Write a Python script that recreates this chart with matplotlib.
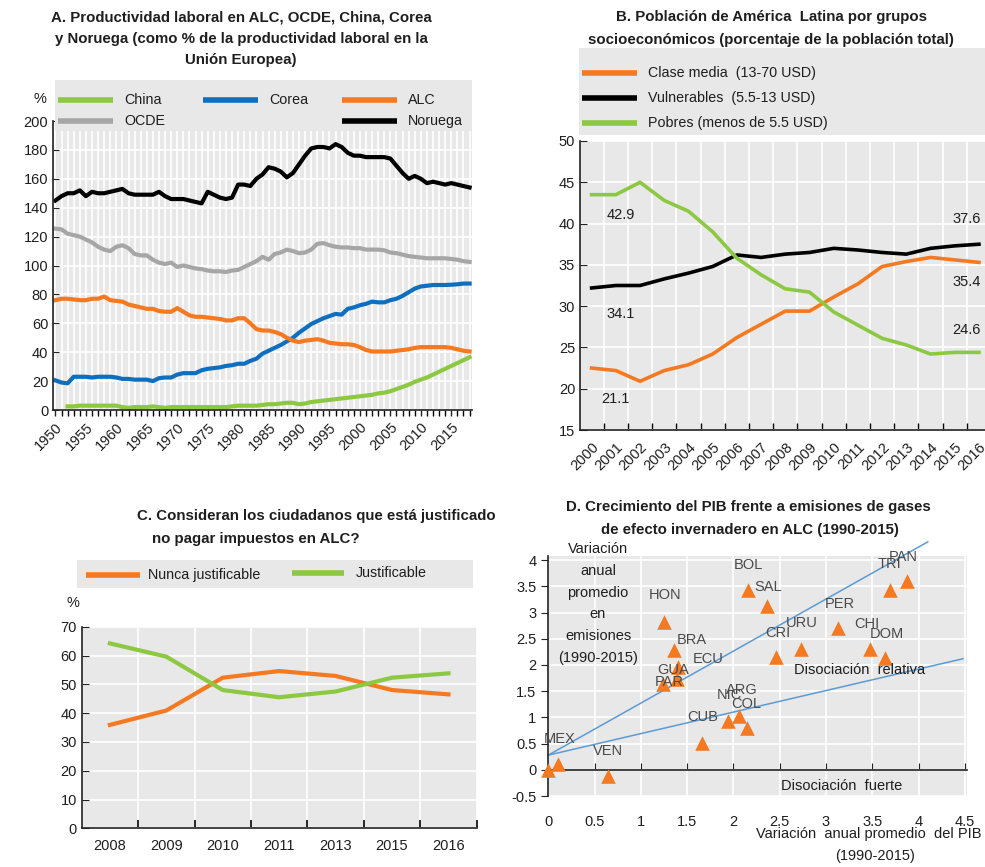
import numpy as np
import matplotlib.pyplot as plt
from matplotlib.lines import Line2D
from matplotlib.patches import Rectangle
from matplotlib.ticker import MultipleLocator, FixedLocator

plt.rcParams['font.family'] = ['Liberation Sans', 'DejaVu Sans']
plt.rcParams['font.size'] = 10

# ---------------- data ----------------
# Panel A: productividad laboral (% de la UE), 1950-2018
years_a = list(range(1950, 2019))
china = [np.nan, np.nan, 2.5, 2.5, 3, 3, 3, 3, 3, 3,
         3, 2, 1.5, 2, 2, 2, 2.5, 2, 1.5, 2,
         2, 2, 2, 2, 2, 2, 2, 2, 2, 2.5,
         3, 3, 3, 3, 3.5, 4, 4, 4.5, 5, 5,
         4, 4.5, 5.5, 6, 6.5, 7, 7.5, 8, 8.5, 9,
         9.5, 10, 10.5, 11.5, 12, 13, 14.5, 16, 17.5, 19.5,
         21, 22.5, 24.5, 26.5, 28.5, 30.5, 32.5, 34.5, 36.5]
corea = [20.5, 19, 18.5, 23, 23, 23, 22.5, 23, 23, 23,
         22.5, 21.5, 21.5, 21, 21, 21, 20, 22, 22.5, 22.5,
         24.5, 25.5, 25.5, 25.5, 27.5, 28.5, 29, 29.5, 30.5, 31,
         32, 32, 34, 35.5, 39, 41, 43, 45, 47.5, 50,
         53.5, 56.5, 59.5, 61.5, 63.5, 65, 66.5, 66, 70, 71,
         72.5, 73.5, 75, 74.5, 74.5, 76, 77, 79, 81.5, 84,
         85.5, 86, 86.5, 86.5, 86.5, 86.7, 87, 87.5, 87.5]
alc = [76, 77, 77, 76.5, 76, 76, 77, 77, 78.5, 76,
       75.5, 75, 73, 72, 71, 70, 70, 68.5, 68, 68,
       70.5, 68, 65.5, 64.5, 64.5, 64, 63.5, 63, 62, 62,
       63.5, 63.5, 60, 56, 55, 55, 54, 52.5, 50, 48,
       47, 48, 48.5, 49, 48, 46.5, 46, 45.5, 45.5, 45,
       43.5, 41.5, 40.5, 40.5, 40.5, 40.5, 41, 41.5, 42, 43,
       43.5, 43.5, 43.5, 43.5, 43.5, 43, 42, 41, 40.5]
ocde = [125.5, 125, 122, 121, 120, 118, 116, 113, 111, 110,
        113, 114, 112, 108, 107, 107, 104, 102, 101, 102,
        99, 100, 99, 98, 97.5, 96.5, 96, 96, 95.5, 96.5,
        97, 99, 101, 103, 106, 104, 108, 109, 111, 110,
        108.5, 109, 111, 115, 115.5, 114, 113, 112.5, 112.5, 112,
        112, 111, 111, 111, 110.5, 109, 108.5, 107.5, 106.5, 106,
        105.5, 105, 105, 105, 105, 104.5, 104, 103, 102.5]
noruega = [145, 148, 150, 150, 152, 148, 151, 150, 150, 151,
           152, 153, 150, 149, 149, 149, 149, 151, 148, 146,
           146, 146, 145, 144, 143, 151, 149, 147, 146, 147,
           156, 156, 155, 160, 163, 168, 167, 165, 161, 164,
           170, 176, 181, 182, 182, 181, 184, 182, 178, 176,
           176, 175, 175, 175, 175, 174, 169, 164, 160, 162,
           160, 157, 158, 157, 156, 157, 156, 155, 154]

# Panel B: población por grupos socioeconómicos (%)
years_b = ['2000', '2001', '2002', '2003', '2004', '2005', '2006', '2007', '2008',
           '2009', '2010', '2011', '2012', '2013', '2014', '2015', '2016']
clase_media = [22.5, 22.2, 20.9, 22.2, 22.9, 24.2, 26.2, 27.8, 29.4,
               29.4, 31.1, 32.7, 34.8, 35.4, 35.9, 35.6, 35.3]
vulnerables = [32.2, 32.5, 32.5, 33.3, 34.0, 34.8, 36.2, 35.9, 36.3,
               36.5, 37.0, 36.8, 36.5, 36.3, 37.0, 37.3, 37.5]
pobres = [43.5, 43.5, 45.0, 42.8, 41.5, 39.0, 35.8, 33.8, 32.1,
          31.7, 29.3, 27.7, 26.1, 25.3, 24.2, 24.4, 24.4]
b_labels = ['42.9', '34.1', '21.1', '37.6', '35.4', '24.6']

# Panel C: justificación de no pagar impuestos (%)
years_c = ['2008', '2009', '2010', '2011', '2013', '2015', '2016']
nunca = [35.9, 40.9, 52.3, 54.6, 52.9, 48.0, 46.5]
justificable = [64.2, 59.6, 48.0, 45.5, 47.5, 52.3, 53.8]

# Panel D: crecimiento del PIB vs emisiones (variación anual promedio 1990-2015)
paises = ['', 'MEX', 'VEN', 'HON', 'BRA', 'ECU', 'GUA', 'PAR', 'CUB', 'NIC', 'ARG',
          'COL', 'BOL', 'SAL', 'CRI', 'URU', 'PER', 'CHI', 'DOM', 'TRI', 'PAN']
pib = [0.0, 0.11, 0.64, 1.25, 1.36, 1.40, 1.39, 1.24, 1.66, 1.94, 2.06,
       2.15, 2.16, 2.36, 2.46, 2.73, 3.13, 3.47, 3.64, 3.69, 3.88]
emisiones = [0.0, 0.12, -0.11, 2.83, 2.28, 1.97, 1.74, 1.64, 0.52, 0.94, 1.03,
             0.79, 3.43, 3.12, 2.15, 2.31, 2.71, 2.31, 2.13, 3.44, 3.60]
# country label placement (data coords)
lbl_x = [0, 0.12, 0.64, 1.26, 1.55, 1.73, 1.35, 1.31, 1.67, 1.96, 2.09,
         2.14, 2.16, 2.38, 2.48, 2.74, 3.15, 3.44, 3.66, 3.69, 3.83]
lbl_y = [0, 0.58, 0.35, 3.33, 2.48, 2.12, 1.90, 1.68, 1.00, 1.42, 1.52,
         1.26, 3.90, 3.49, 2.62, 2.81, 3.17, 2.79, 2.59, 3.93, 4.06]
fuerte_x = [0, 4.10]
fuerte_y = [0.28, 4.35]
relativa_x = [0, 4.48]
relativa_y = [0.28, 2.12]

# ---------------- style ----------------
GREEN = '#8CC841'
BLUE = '#0F6FBF'
ORANGE = '#F47920'
GREY = '#A6A6A6'
BG = '#E8E8E8'
TXT = '#1E1E1E'
TITLE_SIZE = 10.8

W, H = 985, 867
fig = plt.figure(figsize=(W / 100, H / 100), dpi=100)


def fx(px):
    return px / W


def fy(py):
    return 1 - py / H


def add_box(x0, y0, x1, y1):
    fig.add_artist(Rectangle((fx(x0), fy(y1)), fx(x1) - fx(x0), fy(y0) - fy(y1),
                             transform=fig.transFigure, facecolor=BG,
                             edgecolor='none', zorder=1))


def legend_item(x0, y, label, color, lw, length=55, gap=11):
    fig.add_artist(Line2D([fx(x0), fx(x0 + length)], [fy(y), fy(y)],
                          transform=fig.transFigure, color=color, lw=lw,
                          solid_capstyle='butt', zorder=3))
    fig.text(fx(x0 + length + gap), fy(y), label, va='center', ha='left',
             color=TXT, fontsize=10.3, zorder=3)


def title_line(x, y, text, ha='center'):
    fig.text(fx(x), fy(y), text, ha=ha, va='center', fontweight='bold',
             fontsize=TITLE_SIZE, color=TXT)


def style_axes(ax):
    ax.set_facecolor(BG)
    for s in ['top', 'right']:
        ax.spines[s].set_visible(False)
    for s in ['left', 'bottom']:
        ax.spines[s].set_color('#222222')
        ax.spines[s].set_linewidth(1.2)
    ax.tick_params(colors='#222222', labelcolor=TXT, labelsize=10.5)
    ax.set_axisbelow(True)


# ---------------- Panel A ----------------
axA = fig.add_axes([fx(53), fy(410), fx(472) - fx(53), fy(121) - fy(410)])
style_axes(axA)
axA.plot(years_a, china, color=GREEN, lw=3)
axA.plot(years_a, corea, color=BLUE, lw=3)
axA.plot(years_a, alc, color=ORANGE, lw=3)
axA.plot(years_a, ocde, color=GREY, lw=3)
axA.plot(years_a, noruega, color='black', lw=3)
axA.set_xlim(1949.6, 2018.4)
axA.set_ylim(0, 200)
axA.yaxis.set_major_locator(MultipleLocator(20))
axA.xaxis.set_major_locator(FixedLocator(years_a[::5]))
axA.xaxis.set_minor_locator(FixedLocator(years_a))
axA.set_xticklabels([str(y) for y in years_a[::5]], rotation=45, ha='right',
                    rotation_mode='anchor')
axA.tick_params(axis='x', which='both', direction='out', length=4, width=1)
axA.tick_params(axis='y', direction='in', length=4)
axA.grid(True, which='both', color='white', lw=1.2)
add_box(54.5, 80, 472, 131)
legend_item(58, 100, 'China', GREEN, 4)
legend_item(58, 121, 'OCDE', GREY, 4)
legend_item(203, 100, 'Corea', BLUE, 4)
legend_item(342, 100, 'ALC', ORANGE, 4)
legend_item(342, 121, 'Noruega', 'black', 4)
fig.text(fx(40), fy(99), '%', ha='center', va='center', fontsize=10.5, color=TXT)
for i, line in enumerate(['A. Productividad laboral en ALC, OCDE, China, Corea',
                          'y Noruega (como % de la productividad laboral en la',
                          'Unión Europea)']):
    title_line(241, 17 + 21.5 * i, line)

# ---------------- Panel B ----------------
xb = np.arange(len(years_b))
axB = fig.add_axes([fx(580), fy(430), 1 - fx(580), fy(141) - fy(430)])
style_axes(axB)
axB.plot(xb, clase_media, color=ORANGE, lw=2.6)
axB.plot(xb, vulnerables, color='black', lw=2.6)
axB.plot(xb, pobres, color=GREEN, lw=2.6)
axB.set_xlim(-0.48, 16.25)
axB.set_ylim(15, 50)
axB.yaxis.set_major_locator(MultipleLocator(5))
axB.set_xticks(xb)
axB.set_xticklabels(years_b, rotation=45, ha='right', rotation_mode='anchor')
axB.xaxis.set_minor_locator(FixedLocator(xb[:-1] + 0.5))
axB.tick_params(axis='x', which='major', length=0, pad=7)
axB.tick_params(axis='x', which='minor', direction='in', length=5, width=1)
axB.tick_params(axis='y', direction='in', length=5)
axB.grid(True, axis='y', color='white', lw=1.2)
axB.grid(True, axis='x', which='minor', color='white', lw=1.2)
lbl_pos_b = [(1.2, 41.0), (1.2, 29.1), (1.0, 18.8), (15.5, 40.6), (15.5, 32.9), (15.5, 27.1)]
for txt, (x, y) in zip(b_labels, lbl_pos_b):
    axB.text(x, y, txt, ha='center', va='center', fontsize=10.5, color=TXT)
add_box(579, 48, 985, 135)
legend_item(582, 73, 'Clase media  (13-70 USD)', ORANGE, 4)
legend_item(582, 98, 'Vulnerables  (5.5-13 USD)', 'black', 4)
legend_item(582, 123, 'Pobres (menos de 5.5 USD)', GREEN, 4)
title_line(772, 17, 'B. Población de América  Latina por grupos')
title_line(771, 40, 'socioeconómicos (porcentaje de la población total)')

# ---------------- Panel C ----------------
xc = np.arange(len(years_c))
axC = fig.add_axes([fx(81.7), fy(828.3), fx(476.7) - fx(81.7), fy(626.7) - fy(828.3)])
style_axes(axC)
axC.plot(xc, nunca, color=ORANGE, lw=3)
axC.plot(xc, justificable, color=GREEN, lw=3)
axC.set_xlim(-0.5, 6.5)
axC.set_ylim(0, 70)
axC.yaxis.set_major_locator(MultipleLocator(10))
axC.set_xticks(xc)
axC.set_xticklabels(years_c)
axC.xaxis.set_minor_locator(FixedLocator(xc + 0.5))
axC.tick_params(axis='x', which='major', length=0, pad=8)
axC.tick_params(axis='x', which='minor', direction='in', length=6, width=1.2)
axC.tick_params(axis='y', direction='in', length=5)
axC.grid(True, axis='y', color='white', lw=1.2)
axC.grid(True, axis='x', which='minor', color='white', lw=1.2)
add_box(77, 560, 473, 588)
legend_item(86, 575, 'Nunca justificable', ORANGE, 4, length=54, gap=8)
legend_item(292, 573, 'Justificable', GREEN, 4, length=52, gap=12)
fig.text(fx(73), fy(603), '%', ha='center', va='center', fontsize=10.5, color=TXT)
title_line(137, 516, 'C. Consideran los ciudadanos que está justificado', ha='left')
title_line(152, 539, 'no pagar impuestos en ALC?', ha='left')

# ---------------- Panel D ----------------
axD = fig.add_axes([fx(548.3), fy(796), fx(966.7) - fx(548.3), fy(556) - fy(796)])
style_axes(axD)
axD.plot(fuerte_x, fuerte_y, color='#5B9BD5', lw=1.1, clip_on=False)
axD.plot(relativa_x, relativa_y, color='#5B9BD5', lw=1.1, clip_on=False)
axD.scatter(pib, emisiones, marker='^', s=110, color=ORANGE, zorder=3,
            linewidths=0, clip_on=False)
for name, x, y in zip(paises, lbl_x, lbl_y):
    if name:
        axD.text(x, y, name, ha='center', va='center', fontsize=10.5,
                 color='#4A4A4A', zorder=4)
axD.set_xlim(0, 4.52)
axD.set_ylim(-0.5, 4.08)
axD.xaxis.set_major_locator(MultipleLocator(0.5))
axD.yaxis.set_major_locator(MultipleLocator(0.5))
axD.yaxis.set_major_formatter(plt.FuncFormatter(lambda v, p: f'{v:g}'))
axD.spines['bottom'].set_position(('data', 0))
axD.tick_params(axis='x', direction='in', length=5, labelbottom=False)
axD.tick_params(axis='y', direction='out', length=5)
axD.grid(True, color='white', lw=1.2)
sec = axD.secondary_xaxis('bottom')
sec.xaxis.set_major_locator(MultipleLocator(0.5))
sec.xaxis.set_major_formatter(plt.FuncFormatter(lambda v, p: f'{v:g}'))
sec.spines['bottom'].set_visible(False)
sec.tick_params(length=0, pad=14, labelsize=10.5, labelcolor=TXT)
axD.text(3.36, 1.9, 'Disociación  relativa', ha='center', va='center',
         fontsize=10.5, color=TXT)
axD.text(3.17, -0.3, 'Disociación  fuerte', ha='center', va='center',
         fontsize=10.5, color=TXT)
for i, line in enumerate(['Variación', 'anual', 'promedio', 'en', 'emisiones',
                          '(1990-2015)']):
    fig.text(fx(598), fy(549 + 21.8 * i), line, ha='center', va='center',
             fontsize=10.5, color=TXT)
fig.text(fx(982), fy(834), 'Variación  anual promedio  del PIB', ha='right',
         va='center', fontsize=10.5, color=TXT)
fig.text(fx(875), fy(856), '(1990-2015)', ha='center', va='center',
         fontsize=10.5, color=TXT)
title_line(748, 507, 'D. Crecimiento del PIB frente a emisiones de gases')
title_line(750, 530, 'de efecto invernadero en ALC (1990-2015)')

fig.savefig('out.png', dpi=100)
